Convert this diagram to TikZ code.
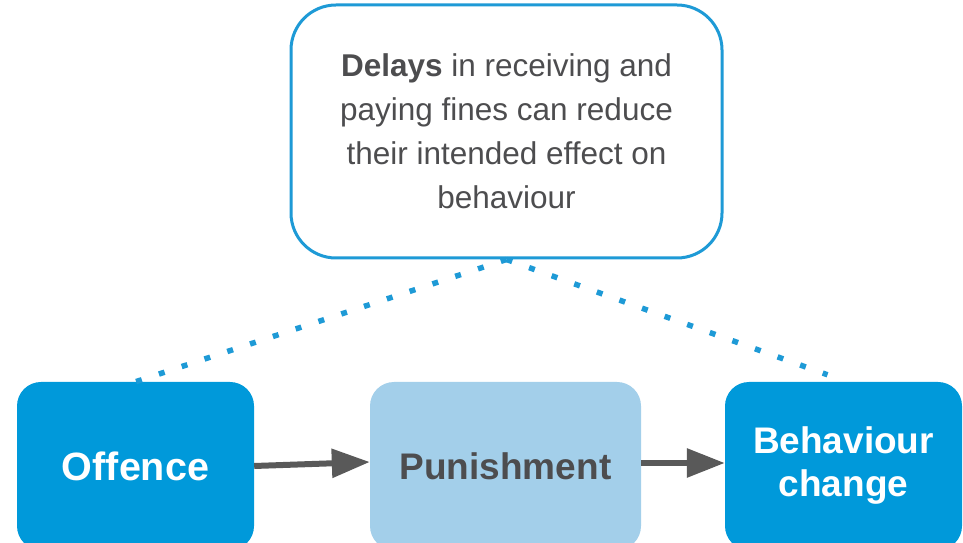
\documentclass[tikz,border=0pt]{standalone}
\usepackage{fontspec}
\setmainfont{Liberation Sans}
\usetikzlibrary{arrows.meta}

\definecolor{azul}{HTML}{0099DA}
\definecolor{azulclaro}{HTML}{A3CFEA}
\definecolor{borde}{HTML}{1E9AD6}
\definecolor{texto}{HTML}{4D4D4F}
\definecolor{flecha}{HTML}{595959}

\begin{document}
\begin{tikzpicture}[x=1pt,y=1pt,>={Triangle[length=38pt,width=28pt]},
  caja/.style={rounded corners=24pt,minimum width=237pt,minimum height=168pt,
    inner sep=0pt,align=center,font=\fontsize{37}{43}\selectfont\bfseries},
  nota/.style={draw=borde,line width=3pt,fill=white,rounded corners=45pt,
    minimum width=431pt,minimum height=253pt,align=center,
    text=texto,font=\fontsize{31.5}{44}\selectfont},
  flechita/.style={->,flecha,line width=6pt},
  punteado/.style={borde,line width=5.5pt,dash pattern=on 6pt off 18pt}]
  \useasboundingbox (0,0) rectangle (963,543);
  % cajas de la cadena
  \node[caja,fill=azul,text=white,font=\fontsize{39.5}{43}\selectfont\bfseries] (offence) at (135.5,77) {Offence};
  \node[caja,fill=azulclaro,text=texto,minimum width=271pt] (punishment) at (505.5,77) {Punishment};
  \node[caja,fill=azul,text=white] (change) at (843.5,77) {Behaviour\\change};
  % nota superior
  \node[nota] (delays) at (506.5,411.5)
    {\textbf{Delays} in receiving and\\paying fines can reduce\\their intended effect on\\behaviour};
  % lineas punteadas hacia la nota
  \draw[punteado] (delays.south) -- (offence.north);
  \draw[punteado] (delays.south) -- ([xshift=-16pt,yshift=7pt]change.north);
  % flechas
  \draw[flechita] (offence.east) -- ([yshift=4pt]punishment.west);
  \draw[flechita] ([yshift=3pt]punishment.east) -- ([yshift=3pt]change.west);
\end{tikzpicture}
\end{document}
